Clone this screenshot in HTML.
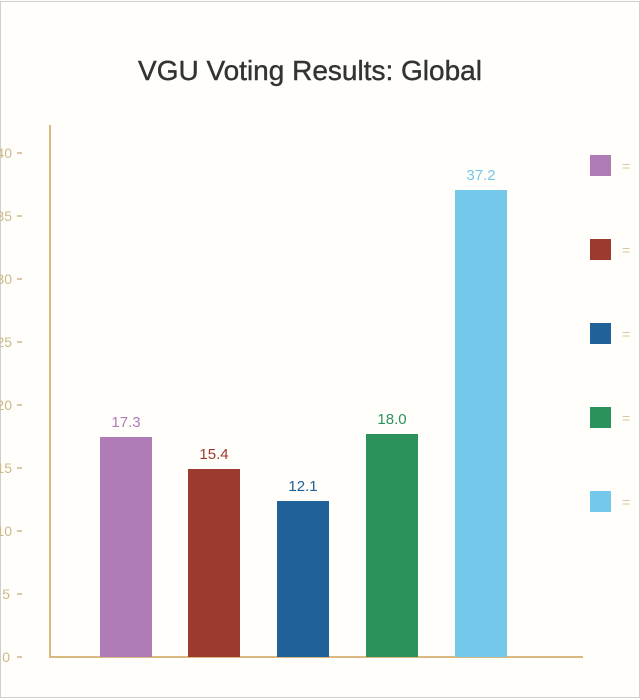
<!DOCTYPE html>
<html><head><style>
html,body{margin:0;padding:0;background:#fff}
.f{position:absolute;left:0;top:0;width:640px;height:700px;overflow:hidden;background:#fffefb;font-family:"Liberation Sans",sans-serif}
</style></head><body><div class="f">
<svg width="640" height="700" xmlns="http://www.w3.org/2000/svg">
<rect x="0.5" y="1.5" width="639" height="696" fill="none" stroke="#cfcfcf"/>
<text x="310" y="80" text-anchor="middle" font-size="28" fill="#333" stroke="#333" stroke-width="0.4" font-family="Liberation Sans, sans-serif">VGU Voting Results: Global</text>
<g stroke="#d9b97f" stroke-width="2" fill="none">
<line x1="50" y1="125" x2="50" y2="658"/>
<line x1="49" y1="657" x2="583" y2="657"/>
</g>
<g font-size="14" fill="#cbb98a" text-anchor="end" font-family="Liberation Sans, sans-serif">
<text x="12" y="158">40</text>
<text x="12" y="221">35</text>
<text x="12" y="284">30</text>
<text x="12" y="347">25</text>
<text x="12" y="410">20</text>
<text x="12" y="473">15</text>
<text x="12" y="536">10</text>
<text x="10" y="599">5</text>
<text x="10" y="662">0</text>
</g>
<g stroke="#cbb98a" stroke-width="1.5">
<line x1="17" y1="153" x2="22" y2="153"/>
<line x1="17" y1="216" x2="22" y2="216"/>
<line x1="17" y1="279" x2="22" y2="279"/>
<line x1="17" y1="342" x2="22" y2="342"/>
<line x1="17" y1="405" x2="22" y2="405"/>
<line x1="17" y1="468" x2="22" y2="468"/>
<line x1="17" y1="531" x2="22" y2="531"/>
<line x1="17" y1="594" x2="22" y2="594"/>
<line x1="17" y1="657" x2="22" y2="657"/>
</g>
<rect x="100" y="437" width="52" height="220" fill="#b07cb5"/>
<rect x="188" y="469" width="52" height="188" fill="#9c3a30"/>
<rect x="277" y="501" width="52" height="156" fill="#20619a"/>
<rect x="366" y="434" width="52" height="223" fill="#2b925c"/>
<rect x="455" y="190" width="52" height="467" fill="#74c8e9"/>
<g font-size="15" text-anchor="middle" font-family="Liberation Sans, sans-serif">
<text x="126" y="427" fill="#b07cb5">17.3</text>
<text x="214" y="459" fill="#9c3a30">15.4</text>
<text x="303" y="491" fill="#20619a">12.1</text>
<text x="392" y="424" fill="#2b925c">18.0</text>
<text x="481" y="180" fill="#74c8e9">37.2</text>
</g>
<rect x="590" y="155" width="21" height="21" fill="#b07cb5"/>
<rect x="590" y="239" width="21" height="21" fill="#9c3a30"/>
<rect x="590" y="323" width="21" height="21" fill="#20619a"/>
<rect x="590" y="407" width="21" height="21" fill="#2b925c"/>
<rect x="590" y="491" width="21" height="21" fill="#74c8e9"/>
<g font-size="14" fill="#d9c79a" font-family="Liberation Sans, sans-serif">
<text x="622" y="171">=</text><text x="622" y="255">=</text><text x="622" y="339">=</text><text x="622" y="423">=</text><text x="622" y="507">=</text>
</g>
</svg>
</div></body></html>
